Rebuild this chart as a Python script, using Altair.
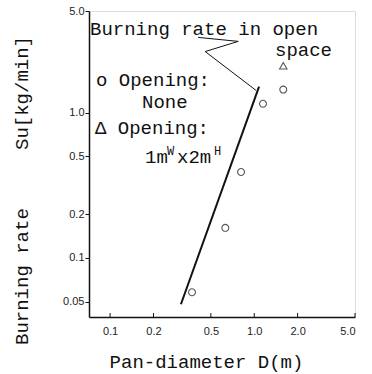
import altair as alt
import pandas as pd

# Pan-fire burning rate vs. pan diameter (log-log)
# Opening: none (open circles)
d_none = [0.37, 0.63, 0.81, 1.15, 1.59]
su_none = [0.058, 0.161, 0.39, 1.15, 1.44]
# Opening: 1m(W) x 2m(H) (open triangle)
d_open = [1.59]
su_open = [2.1]
# Burning rate in open space (straight line)
d_free = [0.31, 1.08]
su_free = [0.048, 1.51]
# Zig-zag leader from the label down to the line
d_leader = [0.408, 0.774, 0.457, 1.03]
su_leader = [3.29, 3.09, 2.63, 1.42]

x_ticks = [0.1, 0.2, 0.5, 1.0, 2.0, 5.0]
y_ticks = [0.05, 0.1, 0.2, 0.5, 1.0, 5.0]

MONO = "Liberation Mono"
INK = "#111111"
W, H = 266, 306

df_none = pd.DataFrame({"D": d_none, "Su": su_none})
df_open = pd.DataFrame({"D": d_open, "Su": su_open})
df_free = pd.DataFrame({"D": d_free, "Su": su_free})
df_leader = pd.DataFrame({"D": d_leader, "Su": su_leader, "k": list(range(len(d_leader)))})
df_xt = pd.DataFrame({"D": x_ticks})

label_expr = "datum.value < 0.09 ? format(datum.value, '.2f') : format(datum.value, '.1f')"

xs = alt.Scale(type="log", domain=[0.0714, 5.0], nice=False)
ys = alt.Scale(type="log", domain=[0.0392, 5.0], nice=False)

x_axis = alt.Axis(
    values=x_ticks, labelExpr=label_expr, ticks=False, grid=False,
    labelFont="Liberation Sans", labelFontSize=11, labelColor="#222222",
    labelPadding=8, domainColor=INK, domainWidth=1.5,
    title="Pan-diameter D(m)", titleFont=MONO, titleFontSize=19,
    titleFontWeight="normal", titleColor=INK, titleX=117, titleY=50,
    titleAlign="center", titleBaseline="alphabetic",
)
y_axis = alt.Axis(
    values=y_ticks, labelExpr=label_expr, tickSize=4, tickColor=INK,
    tickWidth=1, grid=False, labelFont="Liberation Sans", labelFontSize=11,
    labelColor="#222222", labelPadding=1, domainColor=INK, domainWidth=1.5,
    title=None,
)

base_x = alt.X("D:Q", scale=xs, axis=x_axis)
base_y = alt.Y("Su:Q", scale=ys, axis=y_axis)

circles = alt.Chart(df_none).mark_point(
    shape="circle", filled=False, size=48, strokeWidth=1.1, color=INK
).encode(x=base_x, y=base_y)

triangles = alt.Chart(df_open).mark_point(
    shape="triangle-up", filled=False, size=55, strokeWidth=1.1, color=INK
).encode(x=alt.X("D:Q", scale=xs), y=alt.Y("Su:Q", scale=ys))

free_line = alt.Chart(df_free).mark_line(color=INK, strokeWidth=2).encode(
    x=alt.X("D:Q", scale=xs), y=alt.Y("Su:Q", scale=ys)
)

leader = alt.Chart(df_leader).mark_line(color=INK, strokeWidth=1).encode(
    x=alt.X("D:Q", scale=xs), y=alt.Y("Su:Q", scale=ys), order="k:O"
)

# inward (upward) ticks on the x axis
x_tick_marks = alt.Chart(df_xt).mark_rule(color=INK, strokeWidth=1).encode(
    x=alt.X("D:Q", scale=xs), y=alt.value(H - 4), y2=alt.value(H)
)


def txt(s, x, y, size=19, align="left", angle=0):
    return alt.Chart(pd.DataFrame({"t": [s]})).mark_text(
        font=MONO, fontSize=size, align=align, baseline="alphabetic",
        color=INK, angle=angle,
    ).encode(text="t:N", x=alt.value(x), y=alt.value(y))


labels = [
    txt("Burning rate in open", 1, 24),
    txt("space", 243, 45, align="right"),
    txt("o Opening:", 7, 75),
    txt("None", 53, 97),
    txt("\u0394 Opening:", 6, 123),
    txt("1m", 56, 152),
    txt("W", 78, 144, size=12),
    txt("x2m", 88, 152),
    txt("H", 125, 144, size=12),
    txt("Burning rate", -61, 334, angle=270),
    txt("Su[kg/min]", -61, 139, angle=270),
]

chart = alt.layer(
    free_line, leader, circles, triangles, x_tick_marks, *labels
).properties(
    width=W, height=H, autosize="none",
    padding={"left": 89, "top": 11, "right": 17, "bottom": 57},
).configure_view(stroke=None).configure(background="white")

chart.save("out.html", embed_options={"renderer": "svg", "actions": False})
